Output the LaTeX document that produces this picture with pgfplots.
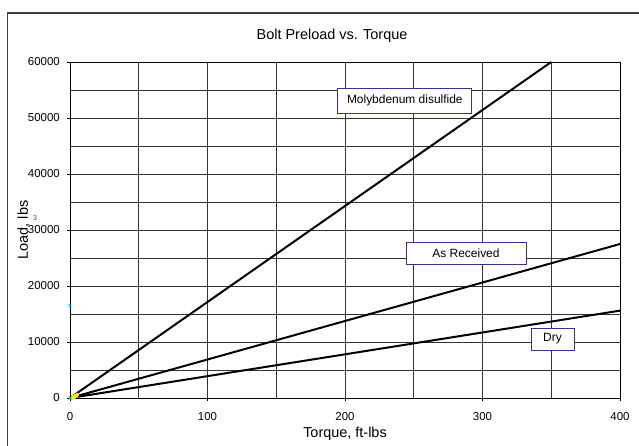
\documentclass[border=0pt]{standalone}
\usepackage{pgfplots}
\pgfplotsset{compat=1.18}
\usepackage{fontspec}
\setmainfont{Liberation Sans}
\definecolor{boxblue}{RGB}{51,51,153}
\begin{document}
\begin{tikzpicture}[x=1bp,y=1bp]
\useasboundingbox (-70,-48) rectangle (569,398);
\fill[white] (-70,-48) rectangle (569,398);
\draw[black!75, line width=1.2bp] (-62.5,-60) -- (-62.5,385) -- (600,385);
\begin{axis}[
  at={(0,0)}, anchor=south west,
  scale only axis, width=550bp, height=336bp,
  xmin=0, xmax=400, ymin=0, ymax=60000,
  xtick={0,100,...,400}, ytick={0,10000,...,60000},
  minor xtick={50,150,250,350}, minor ytick={5000,15000,...,55000},
  grid=both,
  major grid style={black!80, line width=0.8bp},
  minor grid style={black!80, line width=0.8bp},
  tick align=outside, major tick length=3bp, minor tick length=0pt,
  tick pos=left,
  tick style={black, line width=0.8bp},
  axis line style={black, line width=0.9bp},
  scaled ticks=false,
  /pgf/number format/assume math mode=true,
  yticklabel style={/pgf/number format/1000 sep={}, anchor=east, inner sep=0pt, xshift=-7bp, font=\fontsize{11.5}{13}\selectfont},
  xticklabel style={/pgf/number format/1000 sep={}, anchor=north, inner sep=0pt, yshift=-11bp, font=\fontsize{11.5}{13}\selectfont},
  xlabel={Torque, ft-lbs},
  ylabel={Load, lbs},
  title={Bolt Preload vs. Torque},
  xlabel style={at={(axis description cs:0.5,-0.1182)}, anchor=base, inner sep=0pt, font=\fontsize{14.5}{17}\selectfont},
  ylabel style={at={(axis description cs:-0.0764,0.5)}, anchor=base, inner sep=0pt, font=\fontsize{14.5}{17}\selectfont},
  title style={at={(axis description cs:0.4764,1.0506)}, anchor=base, inner sep=0pt, font=\fontsize{14.5}{17}\selectfont},
  clip=false,
]
\addplot[black, line width=2bp] coordinates {(0,0) (350,60000)};
\addplot[black, line width=2bp] coordinates {(0,0) (400,27500)};
\addplot[black, line width=2bp] coordinates {(0,0) (400,15600)};
\addplot[only marks, mark=diamond*, mark size=2.6bp, color=yellow, mark options={fill=yellow}] coordinates {(2,100) (3.5,300) (5,500)};
\addplot[only marks, mark=x, mark size=2bp, color=cyan, line width=0.8bp] coordinates {(0,0) (0,16500)};
\node[draw=boxblue, fill=white, line width=0.9bp, minimum width=134bp, minimum height=25bp, inner sep=0pt, font=\fontsize{12}{14}\selectfont] at (axis cs:243.5,53125) {Molybdenum disulfide};
\node[draw=boxblue, fill=white, line width=0.9bp, minimum width=120bp, minimum height=22bp, inner sep=0pt, font=\fontsize{12}{14}\selectfont] at (axis cs:288,25893) {As Received};
\node[draw=boxblue, fill=white, line width=0.9bp, minimum width=43bp, minimum height=22bp, inner sep=0pt, font=\fontsize{12}{14}\selectfont] at (axis cs:350.9,10536) {Dry};
\end{axis}
\node[font=\fontsize{7}{8}\selectfont, text=black!70] at (-35,180) {3};
\end{tikzpicture}
\end{document}
